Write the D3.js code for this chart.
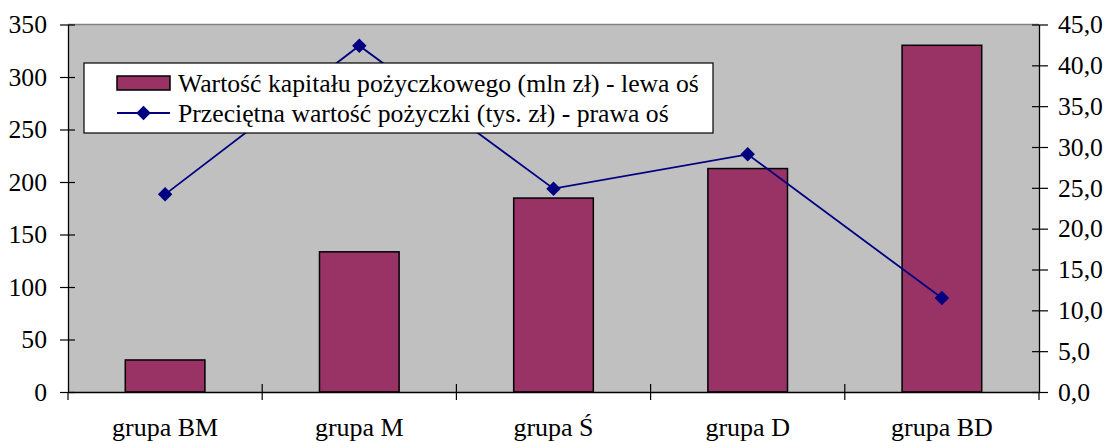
<!DOCTYPE html>
<html><head><meta charset="utf-8">
<script src="https://cdn.jsdelivr.net/npm/d3@7"></script>
<style>body{margin:0;background:#fff}svg{display:block}text{font-family:"Liberation Serif","Times New Roman",serif !important;fill:#000}</style>
</head><body><svg id="c" width="1104" height="443"></svg>
<script>
const categories = ["grupa BM","grupa M","grupa Ś","grupa D","grupa BD"];
const capitalValues = [30.5, 133.5, 184.7, 212.8, 330.2];
const avgLoanValues = [24.2, 42.4, 24.9, 29.1, 11.5];
const leftTicks = [0,50,100,150,200,250,300,350];
const rightTicks = [0,5,10,15,20,25,30,35,40,45];
const legendLabels = ["Wartość kapitału pożyczkowego (mln zł) - lewa oś","Przeciętna wartość pożyczki (tys. zł) - prawa oś"];

const FS = 25.7;
const svg = d3.select("#c");
const L = 68, R = 1039, T = 24.5, B = 392;
const x = d3.scaleBand().domain(categories).range([L, R]).paddingInner(0.59).paddingOuter(0.295);
const xb = d3.scaleBand().domain(categories).range([L, R]);
const yL = d3.scaleLinear().domain([0,350]).range([B, T]);
const yR = d3.scaleLinear().domain([0,45]).range([B, T]);

svg.append("rect").attr("x",L).attr("y",T).attr("width",R-L).attr("height",B-T).attr("fill","#c0c0c0");
svg.append("line").attr("x1",L).attr("x2",R).attr("y1",T).attr("y2",T).attr("stroke","#808080").attr("stroke-width",1.5);

svg.selectAll(".bar").data(categories).join("rect")
  .attr("x",d=>x(d)).attr("width",x.bandwidth())
  .attr("y",(d,i)=>yL(capitalValues[i])).attr("height",(d,i)=>B-yL(capitalValues[i]))
  .attr("fill","#993366").attr("stroke","#000").attr("stroke-width",1.5);

const line = d3.line().x((d,i)=>xb(categories[i])+xb.bandwidth()/2).y(d=>yR(d));
svg.append("path").datum(avgLoanValues).attr("d",line).attr("fill","none").attr("stroke","#000080").attr("stroke-width",1.8);
svg.selectAll(".pt").data(avgLoanValues).join("path")
  .attr("d",d3.symbol(d3.symbolSquare,105)())
  .attr("transform",(d,i)=>`translate(${xb(categories[i])+xb.bandwidth()/2},${yR(d)}) rotate(45)`)
  .attr("fill","#000080");

// axes
const aL = d3.axisLeft(yL).tickValues(leftTicks).tickSizeInner(8).tickSizeOuter(0).tickPadding(13);
const gL = svg.append("g").attr("transform",`translate(${L},0)`).call(aL);
gL.selectAll(".tick line").attr("x2",7).attr("x1",-8);
const aR = d3.axisRight(yR).tickValues(rightTicks).tickFormat(d=>d3.format(".1f")(d).replace(".",",")).tickSizeInner(8).tickSizeOuter(0).tickPadding(11);
const gR = svg.append("g").attr("transform",`translate(${R},0)`).call(aR);
gR.selectAll(".tick line").attr("x1",-7).attr("x2",9);
const aB = d3.axisBottom(xb).tickSize(0).tickPadding(26);
const gB = svg.append("g").attr("transform",`translate(0,${B})`).call(aB);
[gL,gR,gB].forEach(g=>{g.attr("font-family",null).attr("font-size",null);g.selectAll("path.domain").attr("stroke","#000").attr("stroke-width",1.3);g.selectAll(".tick line").attr("stroke","#000").attr("stroke-width",1.2);g.selectAll("text").attr("font-size",FS);});
gB.selectAll("text").attr("font-size",26);
svg.selectAll(".divtick").data(categories.slice(1)).join("line")
  .attr("x1",d=>xb(d)).attr("x2",d=>xb(d)).attr("y1",B-8).attr("y2",B+8).attr("stroke","#000").attr("stroke-width",1.2);
svg.append("line").attr("x1",L).attr("x2",L).attr("y1",B).attr("y2",B+8).attr("stroke","#000").attr("stroke-width",1.2);
svg.append("line").attr("x1",R).attr("x2",R).attr("y1",B).attr("y2",B+8).attr("stroke","#000").attr("stroke-width",1.2);

// legend
const lg = svg.append("g");
lg.append("rect").attr("x",84).attr("y",63).attr("width",629).attr("height",70).attr("fill","#fff").attr("stroke","#000").attr("stroke-width",1.2);
lg.append("rect").attr("x",117).attr("y",76).attr("width",53).attr("height",14).attr("fill","#993366").attr("stroke","#000").attr("stroke-width",1.5);
lg.append("line").attr("x1",117).attr("x2",170).attr("y1",113).attr("y2",113).attr("stroke","#000080").attr("stroke-width",1.8);
lg.append("path").attr("d",d3.symbol(d3.symbolSquare,105)()).attr("transform","translate(143.5,113) rotate(45)").attr("fill","#000080");
lg.selectAll(".lt").data(legendLabels).join("text").attr("x",178).attr("y",(d,i)=>83+i*30).attr("dy","0.35em")
  .attr("font-size",FS).text(d=>d);
</script></body></html>
